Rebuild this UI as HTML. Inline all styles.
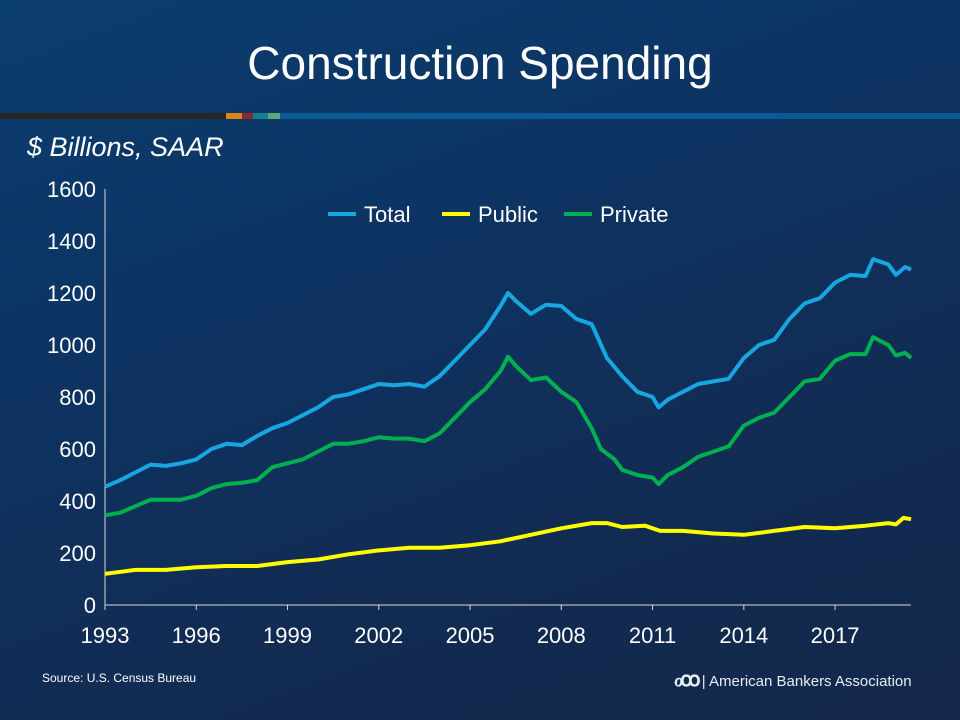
<!DOCTYPE html>
<html><head><meta charset="utf-8"><style>
html,body{margin:0;padding:0}
body{width:960px;height:720px;overflow:hidden;font-family:"Liberation Sans",sans-serif;background:linear-gradient(160deg,#0a3d70 0%,#0d3463 35%,#122b52 70%,#13284a 100%);position:relative;color:#fff}
#title{position:absolute;top:36px;left:0;width:960px;text-align:center;font-size:46px}
.seg{position:absolute;top:113px;height:6px}
#unit{position:absolute;left:27px;top:132px;font-size:27px;font-style:italic}
#src{position:absolute;left:42px;top:671px;font-size:12px}
#logo{position:absolute;left:674px;top:667px;font-size:15px;color:#e8ecf2}
</style></head><body>
<div id="title">Construction Spending</div>
<div class="seg" style="left:0;width:226px;background:#262626"></div>
<div class="seg" style="left:226px;width:16px;background:#d9861c"></div>
<div class="seg" style="left:242px;width:11px;background:#8a2a2a"></div>
<div class="seg" style="left:253px;width:15px;background:#137f93"></div>
<div class="seg" style="left:268px;width:12px;background:#5aa57a"></div>
<div class="seg" style="left:280px;width:680px;background:#0c5a94"></div>
<div id="unit">$ Billions, SAAR</div>
<svg id="chart" width="960" height="720" style="position:absolute;left:0;top:0"></svg>
<div id="src">Source: U.S. Census Bureau</div>
<div id="logo"><span style="font-size:20px;font-weight:bold;letter-spacing:-3px">ℴꝏ</span> | American Bankers Association</div>
<script>
const yTicks=[0,200,400,600,800,1000,1200,1400,1600];
const xTicks=[1993,1996,1999,2002,2005,2008,2011,2014,2017];
const totalYears=[1993,1993.5,1994,1994.5,1995,1995.5,1996,1996.5,1997,1997.5,1998,1998.5,1999,1999.5,2000,2000.5,2001,2001.5,2002,2002.5,2003,2003.5,2004,2004.5,2005,2005.5,2006,2006.25,2006.5,2007,2007.5,2008,2008.5,2009,2009.5,2010,2010.5,2011,2011.2,2011.5,2012,2012.5,2013,2013.5,2014,2014.5,2015,2015.5,2016,2016.5,2017,2017.5,2018,2018.25,2018.75,2019,2019.3,2019.5];
const totalVals=[455,480,510,540,535,545,560,600,620,615,650,680,700,730,760,800,810,830,850,845,850,840,880,940,1000,1060,1150,1200,1170,1120,1155,1150,1100,1080,950,880,820,800,760,790,820,850,860,870,950,1000,1020,1100,1160,1180,1240,1270,1265,1330,1310,1270,1300,1290];
const privYears=[1993,1993.5,1994,1994.5,1995,1995.5,1996,1996.5,1997,1997.5,1998,1998.5,1999,1999.5,2000,2000.5,2001,2001.5,2002,2002.5,2003,2003.5,2004,2004.5,2005,2005.5,2006,2006.25,2006.5,2007,2007.5,2008,2008.5,2009,2009.3,2009.75,2010,2010.5,2011,2011.2,2011.5,2012,2012.5,2013,2013.5,2014,2014.5,2015,2015.5,2016,2016.5,2017,2017.5,2018,2018.25,2018.75,2019,2019.3,2019.5];
const privVals=[345,355,380,405,405,405,420,450,465,470,480,530,545,560,590,620,620,630,645,640,640,630,660,720,780,830,900,955,920,865,875,820,780,680,600,560,520,500,490,465,500,530,570,590,610,690,720,740,800,860,870,940,965,965,1030,1000,960,970,950];
const pubYears=[1993,1994,1995,1996,1997,1998,1999,2000,2001,2002,2003,2004,2005,2006,2007,2008,2009,2009.5,2010,2010.75,2011.25,2012,2013,2014,2015,2016,2017,2018,2018.75,2019,2019.25,2019.5];
const pubVals=[120,135,135,145,150,150,165,175,195,210,220,220,230,245,270,295,315,315,300,305,285,285,275,270,285,300,295,305,315,310,335,330];
const svg=document.getElementById('chart');const NS='http://www.w3.org/2000/svg';
const X0=105,Y0=605,x=v=>X0+(v-1993)*30.42,y=v=>Y0-v*0.26;
function mk(t,a,p){const e=document.createElementNS(NS,t);for(const k in a)e.setAttribute(k,a[k]);(p||svg).appendChild(e);return e;}
const ax=mk('path',{d:`M${X0} ${y(1600)}V${Y0}H911`,stroke:'#d9d9d9','stroke-width':1,fill:'none'});


yTicks.forEach(t=>{const e=mk('text',{x:X0-9,y:y(t)+8,'text-anchor':'end',fill:'#fff','font-size':22,'font-family':'Liberation Sans'});e.textContent=t;

});
xTicks.forEach(t=>{const e=mk('text',{x:x(t),y:Y0+38,'text-anchor':'middle',fill:'#fff','font-size':22,'font-family':'Liberation Sans'});e.textContent=t;


const tk=mk('line',{x1:x(t),x2:x(t),y1:Y0,y2:Y0+5,stroke:'#d9d9d9'});

});
function line(xs,vs,c,n){const p=mk('polyline',{points:xs.map((v,i)=>x(v)+','+y(vs[i])).join(' '),stroke:c,'stroke-width':4,fill:'none','stroke-linejoin':'round'});

}
line(pubYears,pubVals,'#ffff00','series-public');
line(privYears,privVals,'#00b050','series-private');
line(totalYears,totalVals,'#17a6e0','series-total');
[['Total','#17a6e0',328],['Public','#ffff00',442],['Private','#00b050',564]].forEach(([n,c,lx])=>{
const g=mk('g',{});


mk('line',{x1:lx,x2:lx+28,y1:214,y2:214,stroke:c,'stroke-width':4},g);
const t=mk('text',{x:lx+36,y:222,fill:'#fff','font-size':22,'font-family':'Liberation Sans'},g);t.textContent=n;});
</script>
</body></html>
